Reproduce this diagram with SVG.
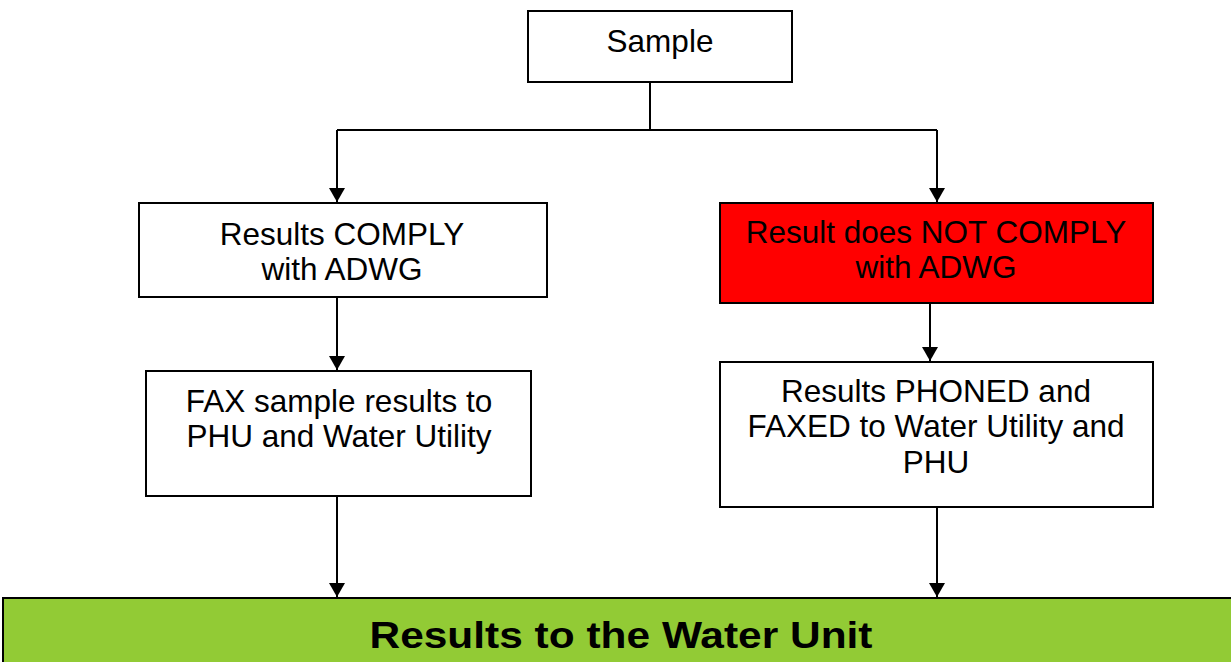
<svg xmlns="http://www.w3.org/2000/svg" width="1231" height="662" viewBox="0 0 1231 662">
<style>
.box{fill:#fff;stroke:#000;stroke-width:2}
.t{font-family:"Liberation Sans",Arial,sans-serif;font-size:31.5px;fill:#000;text-anchor:middle}
.c{fill:none;stroke:#000;stroke-width:2}
</style>
<defs>
<marker id="ah" viewBox="0 0 14 16" refX="14" refY="8" markerWidth="14" markerHeight="16" markerUnits="userSpaceOnUse" orient="auto">
<path d="M0,0 L14,8 L0,16 Z" fill="#000"/>
</marker>
</defs>
<rect width="1231" height="662" fill="#fff"/>
<g id="connectors">
<path class="c" d="M650,82 V130"/>
<path class="c" d="M337,130 H937"/>
<path class="c" d="M337,130 V202" marker-end="url(#ah)"/>
<path class="c" d="M937,130 V202" marker-end="url(#ah)"/>
<path class="c" d="M337,297 V370" marker-end="url(#ah)"/>
<path class="c" d="M930,303 V361" marker-end="url(#ah)"/>
<path class="c" d="M337,496 V597" marker-end="url(#ah)"/>
<path class="c" d="M937,507 V597" marker-end="url(#ah)"/>
</g>
<g id="sample">
<rect class="box" x="528" y="11" width="264" height="71"/>
<text class="t" x="660" y="52">Sample</text>
</g>
<g id="comply">
<rect class="box" x="139" y="203" width="408" height="94"/>
<text class="t" x="342" y="245">Results COMPLY</text>
<text class="t" x="342" y="280">with ADWG</text>
</g>
<g id="notcomply">
<rect class="box" x="720" y="203" width="433" height="100" style="fill:#ff0000"/>
<text class="t" x="936" y="243">Result does NOT COMPLY</text>
<text class="t" x="936" y="278">with ADWG</text>
</g>
<g id="fax">
<rect class="box" x="146" y="371" width="385" height="125"/>
<text class="t" x="339" y="412">FAX sample results to</text>
<text class="t" x="339" y="447">PHU and Water Utility</text>
</g>
<g id="phoned">
<rect class="box" x="720" y="362" width="433" height="145"/>
<text class="t" x="936" y="402">Results PHONED and</text>
<text class="t" x="936" y="437">FAXED to Water Utility and</text>
<text class="t" x="936" y="473">PHU</text>
</g>
<g id="waterunit">
<rect x="3" y="598" width="1240" height="80" style="fill:#92cb35;stroke:#000;stroke-width:2"/>
<text class="t" x="621" y="648" textLength="503" lengthAdjust="spacingAndGlyphs" style="font-size:37px;font-weight:bold">Results to the Water Unit</text>
</g>
</svg>
